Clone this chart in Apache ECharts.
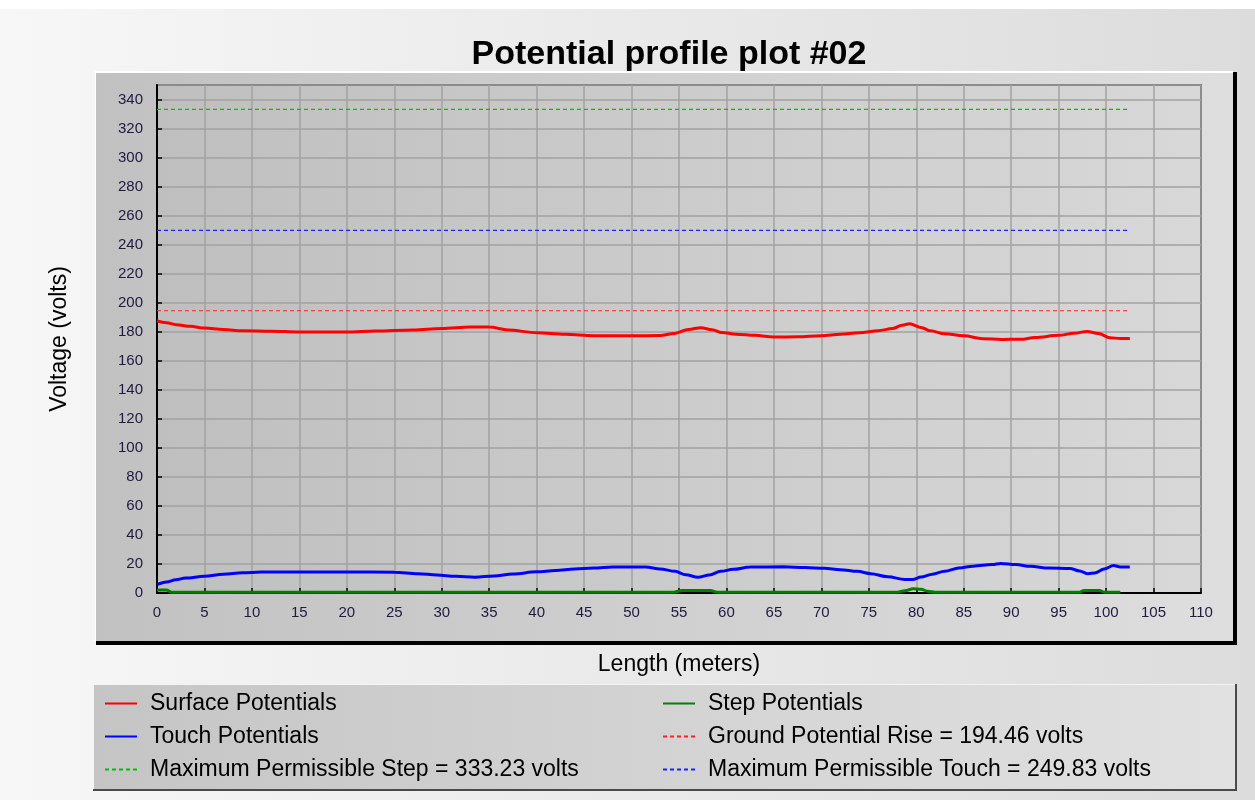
<!DOCTYPE html>
<html>
<head>
<meta charset="utf-8">
<title>Potential profile plot #02</title>
<script src="https://cdn.jsdelivr.net/npm/echarts@6/dist/echarts.min.js"></script>
<style>
html, body { margin: 0; padding: 0; }
#chart {
  width: 1255px;
  height: 800px;
  background: linear-gradient(to right, #f7f7f7, #dcdcdc);
}
</style>
</head>
<body>
<div id="chart"></div>
<script>
// values
var surfaceX = [0, 1, 2, 3.5, 5, 7, 9, 12, 15, 20, 23, 27, 30, 33, 35, 37, 40, 43, 46, 50, 53, 54.5, 56, 57.3, 58.5, 59.5, 61, 63, 65, 67.5, 70, 72, 74, 76, 77.5, 78.5, 79.3, 80.5, 81.5, 83, 85, 87, 89, 91, 92.5, 95, 96.6, 98, 99.2, 100.4, 101.5, 102.5];
var surfaceV = [187.4, 186.2, 184.9, 183.7, 182.5, 181.5, 180.7, 180.4, 179.8, 179.8, 180.5, 181.2, 182.2, 183.3, 183.2, 181.2, 179.3, 178.2, 177.3, 177.2, 177.4, 178.8, 181.6, 182.8, 181.4, 179.5, 178.3, 177.5, 176.4, 176.5, 177.2, 178.2, 179.3, 180.7, 182.2, 184.5, 185.5, 183, 180.6, 178.6, 177.2, 175.2, 174.7, 174.8, 176, 177.5, 178.9, 180.2, 178.8, 175.8, 175.4, 175.4];

var touchX = [0, 1, 2, 3, 5, 7, 9, 11, 20, 25, 27.5, 29.5, 31.5, 33.5, 35.5, 37.5, 40, 42, 44, 46, 48, 51.5, 53, 54.6, 55.7, 57, 58.2, 59.4, 60.7, 62.5, 66, 68.3, 70.3, 72, 73.8, 75.2, 77, 78.8, 79.6, 80.5, 81.7, 83, 84.5, 86, 88, 88.9, 90.5, 92, 94, 96.2, 97.2, 98.1, 98.8, 99.8, 100.8, 101.5, 102.5];
var touchV = [5.7, 7.6, 9.2, 10.3, 11.5, 12.9, 13.9, 14.5, 14.5, 14.3, 13.3, 12.4, 11.5, 10.9, 11.7, 13.1, 14.6, 15.5, 16.6, 17.2, 17.9, 17.9, 16.6, 14.9, 12.6, 10.8, 12.4, 14.9, 16.3, 17.9, 18, 17.6, 17, 16.1, 14.9, 13.3, 11.2, 9.3, 9.3, 11, 13, 15, 17.2, 18.5, 19.6, 20.4, 19.6, 18.4, 17.2, 16.8, 15.2, 13.3, 13.8, 16.6, 18.9, 17.9, 17.9];

var stepX = [0, 1, 1.5, 54.5, 55.3, 58.3, 59, 78, 78.8, 79.7, 80.5, 81.2, 82, 97.2, 97.7, 99.3, 99.8, 101.5];
var stepV = [2, 2, 0.6, 0.6, 1.8, 1.8, 0.5, 0.6, 1.6, 2.9, 2.6, 1.2, 0.5, 0.5, 1.8, 1.8, 0.6, 0.6];

var limitX = [0, 102.5];
var groundRise = 194.46;
var maxStep = 333.23;
var maxTouch = 249.83;

var xTicks = { min: 0, max: 110, step: 5 };
var yTicks = { min: 0, max: 350, step: 20 };

function zip(xs, vs) {
  return xs.map(function (x, i) { return [x, vs[i]]; });
}
function flat(v) {
  return limitX.map(function (x) { return [x, v]; });
}

var names = {
  surface: 'Surface Potentials',
  touch: 'Touch Potentials',
  step: 'Step Potentials',
  gpr: 'Ground Potential Rise = ' + groundRise.toFixed(2) + ' volts',
  mStep: 'Maximum Permissible Step = ' + maxStep.toFixed(2) + ' volts',
  mTouch: 'Maximum Permissible Touch = ' + maxTouch.toFixed(2) + ' volts'
};

var font = '"Liberation Sans", Arial, sans-serif';

function grad(a, b) {
  return { type: 'linear', x: 0, y: 0, x2: 1, y2: 0, colorStops: [{ offset: 0, color: a }, { offset: 1, color: b }] };
}

var legendBase = {
  orient: 'vertical',
  top: 687,
  itemWidth: 32,
  itemHeight: 14,
  itemGap: 10,
  selectedMode: false,
  // line series legends draw a circle in the middle, hide it
  itemStyle: { opacity: 0 },
  textStyle: { fontSize: 23, color: '#000', fontFamily: font, padding: [0, 0, 0, 8] }
};

function lineSeries(name, data, color, width, dashed, z) {
  return {
    name: name,
    type: 'line',
    data: data,
    symbol: 'none',
    showSymbol: false,
    smooth: dashed ? false : 0.35,
    smoothMonotone: 'x',
    z: z,
    itemStyle: { color: color },
    lineStyle: { color: color, width: width, type: dashed ? [4, 3] : 'solid' }
  };
}

var chart = echarts.init(document.getElementById('chart'), null, { renderer: 'canvas' });

var option = {
  animation: false,
  textStyle: { fontFamily: font },
  title: {
    text: 'Potential profile plot #02',
    left: 664,
    top: 33,
    textAlign: 'center',
    textStyle: { fontSize: 34, fontWeight: 'bold', color: '#000', fontFamily: font }
  },
  graphic: [
    { type: 'rect', z: -5, silent: true, shape: { x: 0, y: 0, width: 1255, height: 9 }, style: { fill: '#ffffff' } },
    // chart panel
    { type: 'rect', z: -4, silent: true, shape: { x: 96, y: 72, width: 1141, height: 573 }, style: { fill: '#000000' } },
    { type: 'rect', z: -3, silent: true, shape: { x: 95, y: 71, width: 1138, height: 570 }, style: { fill: '#ffffff' } },
    { type: 'rect', z: -2, silent: true, shape: { x: 96, y: 73, width: 1137, height: 568 }, style: { fill: grad('#c1c1c1', '#dedede') } },
    // legend box
    { type: 'rect', z: -4, silent: true, shape: { x: 93, y: 684, width: 1144, height: 107 }, style: { fill: '#4a4a4a' } },
    { type: 'rect', z: -3, silent: true, shape: { x: 93, y: 684, width: 1142, height: 105 }, style: { fill: '#f4f4f4' } },
    { type: 'rect', z: -2, silent: true, shape: { x: 94, y: 685, width: 1141, height: 104 }, style: { fill: grad('#c5c5c5', '#e1e1e1') } }
  ],
  legend: [
    Object.assign({ left: 99, data: [names.surface, names.touch, names.mStep] }, legendBase),
    Object.assign({ left: 657, data: [names.step, names.gpr, names.mTouch] }, legendBase)
  ],
  grid: {
    left: 157,
    right: 54,
    top: 85,
    bottom: 207,
    show: true,
    outerBoundsMode: 'none',
    backgroundColor: grad('#bfbfbf', '#d8d8d8'),
    borderColor: '#222',
    borderWidth: 1.5
  },
  xAxis: {
    type: 'value',
    min: xTicks.min,
    max: xTicks.max,
    interval: xTicks.step,
    name: 'Length (meters)',
    nameLocation: 'middle',
    nameGap: 60,
    nameTextStyle: { fontSize: 23, color: '#000', fontFamily: font },
    axisLine: { show: true, onZero: false, lineStyle: { color: '#000', width: 2 } },
    axisTick: { show: true, inside: true, length: 5, lineStyle: { color: '#000', width: 1.5 } },
    axisLabel: { fontSize: 15, color: '#1e1a40', margin: 12, fontFamily: font },
    splitLine: { show: true, lineStyle: { color: '#a2a2a2', width: 1.5 } }
  },
  yAxis: {
    type: 'value',
    min: yTicks.min,
    max: yTicks.max,
    interval: yTicks.step,
    name: 'Voltage (volts)',
    nameLocation: 'middle',
    nameGap: 86,
    nameTextStyle: { fontSize: 23, color: '#000', fontFamily: font },
    axisLine: { show: true, onZero: false, lineStyle: { color: '#000', width: 2 } },
    axisTick: { show: true, inside: true, length: 5, lineStyle: { color: '#000', width: 1.5 } },
    axisLabel: { fontSize: 15, color: '#1e1a40', margin: 14, showMaxLabel: false, fontFamily: font },
    splitLine: { show: true, lineStyle: { color: '#a2a2a2', width: 1.5 } }
  },
  series: [
    lineSeries(names.surface, zip(surfaceX, surfaceV), '#ff0000', 3, false, 5),
    lineSeries(names.touch, zip(touchX, touchV), '#0000ff', 3, false, 5),
    lineSeries(names.step, zip(stepX, stepV), '#008000', 3, false, 4),
    lineSeries(names.gpr, flat(groundRise), '#ff2020', 1.2, true, 3),
    lineSeries(names.mStep, flat(maxStep), '#00c000', 1.2, true, 3),
    lineSeries(names.mTouch, flat(maxTouch), '#2020ff', 1.2, true, 3)
  ]
};

chart.setOption(option);
</script>
</body>
</html>
